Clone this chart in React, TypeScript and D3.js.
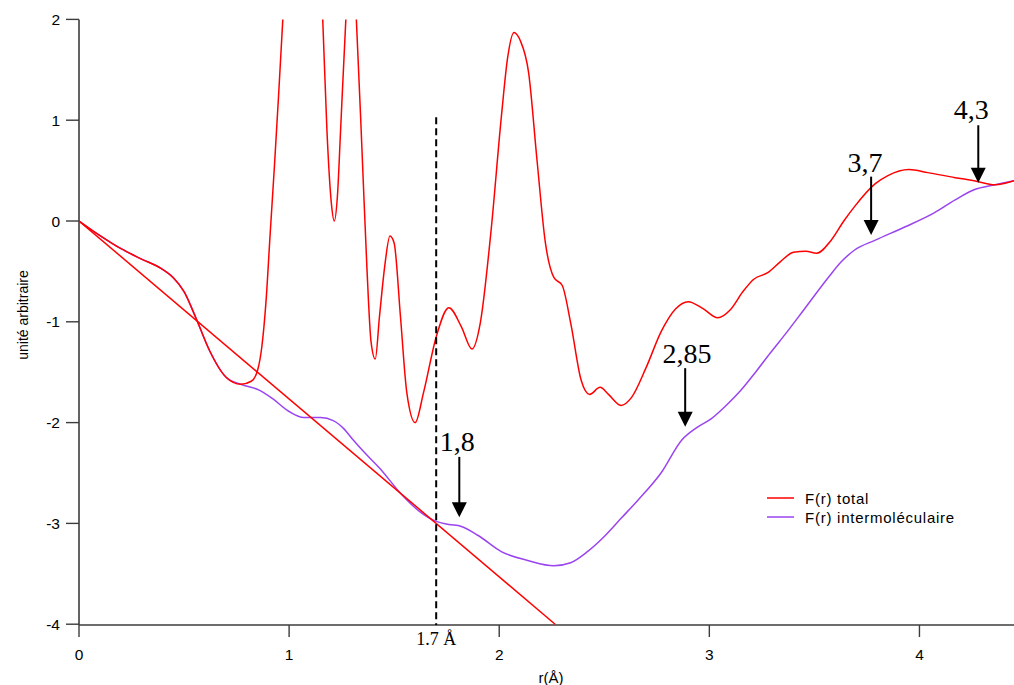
import React from "react";
import * as d3 from "d3";

// ---- data ----
const totalR = [0, 0.1, 0.2, 0.3, 0.39, 0.45, 0.5, 0.56, 0.62, 0.7, 0.77, 0.82, 0.85, 0.87, 0.89, 0.91, 0.93, 0.95, 0.97, 1.0, 1.06, 1.12, 1.16, 1.18, 1.2, 1.215, 1.23, 1.245, 1.27, 1.295, 1.32, 1.35, 1.37, 1.39, 1.41, 1.43, 1.455, 1.48, 1.5, 1.53, 1.56, 1.6, 1.64, 1.7, 1.76, 1.82, 1.87, 1.91, 1.96, 2.01, 2.04, 2.07, 2.1, 2.14, 2.18, 2.22, 2.26, 2.3, 2.34, 2.39, 2.43, 2.48, 2.52, 2.58, 2.63, 2.7, 2.77, 2.84, 2.9, 2.97, 3.04, 3.1, 3.16, 3.21, 3.28, 3.34, 3.4, 3.46, 3.51, 3.58, 3.64, 3.69, 3.79, 3.85, 3.95, 4.04, 4.17, 4.26, 4.36, 4.45];
const totalF = [0, -0.145, -0.275, -0.38, -0.47, -0.565, -0.7, -0.98, -1.28, -1.55, -1.62, -1.59, -1.48, -1.25, -0.8, -0.12, 0.54, 1.25, 2.0, 3.2, 4.5, 3.5, 2.0, 0.9, 0.2, 0.0, 0.25, 0.9, 2.0, 2.8, 2.0, 0.54, -0.45, -1.2, -1.37, -0.95, -0.45, -0.15, -0.22, -0.95, -1.7, -2.0, -1.7, -1.15, -0.86, -1.05, -1.27, -1.01, -0.12, 1.03, 1.62, 1.87, 1.79, 1.47, 0.6, -0.22, -0.56, -0.64, -1.01, -1.58, -1.72, -1.65, -1.72, -1.83, -1.75, -1.45, -1.1, -0.87, -0.8, -0.87, -0.96, -0.88, -0.7, -0.58, -0.51, -0.4, -0.31, -0.3, -0.32, -0.19, 0.0, 0.14, 0.37, 0.45, 0.51, 0.48, 0.43, 0.4, 0.36, 0.4];

const interR = [0, 0.1, 0.2, 0.3, 0.39, 0.45, 0.5, 0.56, 0.62, 0.7, 0.77, 0.86, 0.92, 1.0, 1.07, 1.15, 1.21, 1.26, 1.3, 1.36, 1.43, 1.53, 1.62, 1.7, 1.76, 1.82, 1.9, 2.01, 2.14, 2.26, 2.34, 2.42, 2.5, 2.58, 2.66, 2.77, 2.87, 2.94, 3.01, 3.08, 3.15, 3.22, 3.29, 3.37, 3.45, 3.57, 3.63, 3.69, 3.79, 3.93, 4.07, 4.17, 4.26, 4.36, 4.45];
const interF = [0, -0.145, -0.275, -0.38, -0.47, -0.565, -0.7, -0.98, -1.28, -1.55, -1.62, -1.68, -1.76, -1.89, -1.95, -1.95, -1.98, -2.06, -2.16, -2.3, -2.45, -2.7, -2.88, -2.98, -3.01, -3.03, -3.12, -3.28, -3.37, -3.42, -3.39, -3.28, -3.13, -2.95, -2.77, -2.5, -2.17, -2.05, -1.96, -1.83, -1.68, -1.5, -1.31, -1.1, -0.88, -0.55, -0.4, -0.29, -0.19, -0.06, 0.08, 0.21, 0.31, 0.36, 0.4];

const fitR = [0, 2.266];
const fitF = [0, -4];

const xTicks = [0, 1, 2, 3, 4];
const yTicks = [2, 1, 0, -1, -2, -3, -4];

const markerR = 1.7;
const markerTop = 1.03;
const markerLabel = "1.7 Å";

const annLabels = ["1,8", "2,85", "3,7", "4,3"];
const annTextR = [1.8, 2.894, 3.741, 4.246];
const annTextF = [-2.28, -1.41, 0.49, 1.01];
const annArrowR = [1.81, 2.885, 3.77, 4.28];
const annArrowTop = [-2.34, -1.46, 0.44, 0.95];
const annArrowTip = [-2.94, -2.04, -0.14, 0.38];

const legendLabels = ["F(r) total", "F(r) intermoléculaire"];
const seriesColors = ["#ff0000", "#9a44f0"];

export default function App() {
  const W = 1014, H = 685;
  const x = d3.scaleLinear().domain([0, 4.45]).range([79, 1014]);
  const y = d3.scaleLinear().domain([2, -4]).range([19.4, 624.2]);
  const axisY = 625;
  const line = d3
    .line<[number, number]>()
    .x((d) => x(d[0]))
    .y((d) => y(d[1]))
    .curve(d3.curveMonotoneX);
  const straight = d3
    .line<[number, number]>()
    .x((d) => x(d[0]))
    .y((d) => y(d[1]));

  const totalPts = totalR.map((r, i) => [r, totalF[i]] as [number, number]);
  const interPts = interR.map((r, i) => [r, interF[i]] as [number, number]);
  const fitPts = fitR.map((r, i) => [r, fitF[i]] as [number, number]);

  const sans = "'Liberation Sans', Arial, Helvetica, sans-serif";
  const serif = "'Liberation Serif', 'Times New Roman', serif";
  const axisColor = "#3c3c3c";

  return (
    <svg
      width={W}
      height={H}
      style={{ position: "absolute", left: 0, top: 0, background: "#fff" }}
    >
      <defs>
        <clipPath id="plotclip">
          <rect x={x(0)} y={y(2)} width={x(4.45) - x(0)} height={axisY - y(2)} />
        </clipPath>
      </defs>
      <rect x={0} y={0} width={W} height={H} fill="#fff" />

      {/* axes */}
      <line x1={x(0)} x2={x(0)} y1={y(2)} y2={axisY} stroke={axisColor} strokeWidth={1.6} />
      <line x1={x(0)} x2={W} y1={axisY} y2={axisY} stroke={axisColor} strokeWidth={1.6} />
      {yTicks.map((t) => (
        <g key={"y" + t}>
          <line x1={x(0) - 13} x2={x(0)} y1={y(t)} y2={y(t)} stroke={axisColor} strokeWidth={1.4} />
          <text
            x={x(0) - 19}
            y={y(t)}
            textAnchor="end"
            dominantBaseline="central"
            fontFamily={sans}
            fontSize={15.5}
            fill="#000"
          >
            {t}
          </text>
        </g>
      ))}
      {xTicks.map((t) => (
        <g key={"x" + t}>
          <line x1={x(t)} x2={x(t)} y1={axisY} y2={axisY + 12} stroke={axisColor} strokeWidth={1.4} />
          <text
            x={x(t)}
            y={axisY + 29}
            textAnchor="middle"
            dominantBaseline="central"
            fontFamily={sans}
            fontSize={15.5}
            fill="#000"
          >
            {t}
          </text>
        </g>
      ))}
      <text
        x={551}
        y={677}
        textAnchor="middle"
        dominantBaseline="central"
        fontFamily={sans}
        fontSize={15}
        fill="#000"
      >
        r(Å)
      </text>
      <text
        transform={`translate(23,315) rotate(-90)`}
        textAnchor="middle"
        dominantBaseline="central"
        fontFamily={sans}
        fontSize={14}
        fill="#000"
      >
        unité arbitraire
      </text>

      {/* series */}
      <g clipPath="url(#plotclip)">
        <path d={line(interPts) || ""} fill="none" stroke={seriesColors[1]} strokeWidth={1.5} />
        <path d={straight(fitPts) || ""} fill="none" stroke={seriesColors[0]} strokeWidth={1.5} />
        <path d={line(totalPts) || ""} fill="none" stroke={seriesColors[0]} strokeWidth={1.5} />
      </g>

      {/* dashed marker */}
      <line
        x1={x(markerR)}
        x2={x(markerR)}
        y1={y(markerTop)}
        y2={axisY}
        stroke="#000"
        strokeWidth={2}
        strokeDasharray="7,4"
      />
      <text
        x={x(markerR)}
        y={645}
        textAnchor="middle"
        fontFamily={serif}
        fontSize={18}
        fill="#000"
      >
        {markerLabel}
      </text>

      {/* annotations */}
      {annLabels.map((lab, i) => {
        const ax = x(annArrowR[i]);
        const top = y(annArrowTop[i]);
        const tip = y(annArrowTip[i]);
        return (
          <g key={lab}>
            <text
              x={x(annTextR[i])}
              y={y(annTextF[i])}
              textAnchor="middle"
              fontFamily={serif}
              fontSize={28}
              fill="#000"
            >
              {lab}
            </text>
            <line x1={ax} x2={ax} y1={top} y2={tip - 12} stroke="#000" strokeWidth={2} />
            <path d={`M${ax - 7.5},${tip - 15} L${ax + 7.5},${tip - 15} L${ax},${tip} Z`} fill="#000" />
          </g>
        );
      })}

      {/* legend */}
      {legendLabels.map((lab, i) => (
        <g key={lab}>
          <line
            x1={767}
            x2={794}
            y1={498 + i * 19}
            y2={498 + i * 19}
            stroke={seriesColors[i]}
            strokeWidth={1.5}
          />
          <text
            x={805}
            y={498 + i * 19}
            dominantBaseline="central"
            fontFamily={sans}
            fontSize={15}
            letterSpacing={0.75}
            fill="#000"
          >
            {lab}
          </text>
        </g>
      ))}
    </svg>
  );
}
